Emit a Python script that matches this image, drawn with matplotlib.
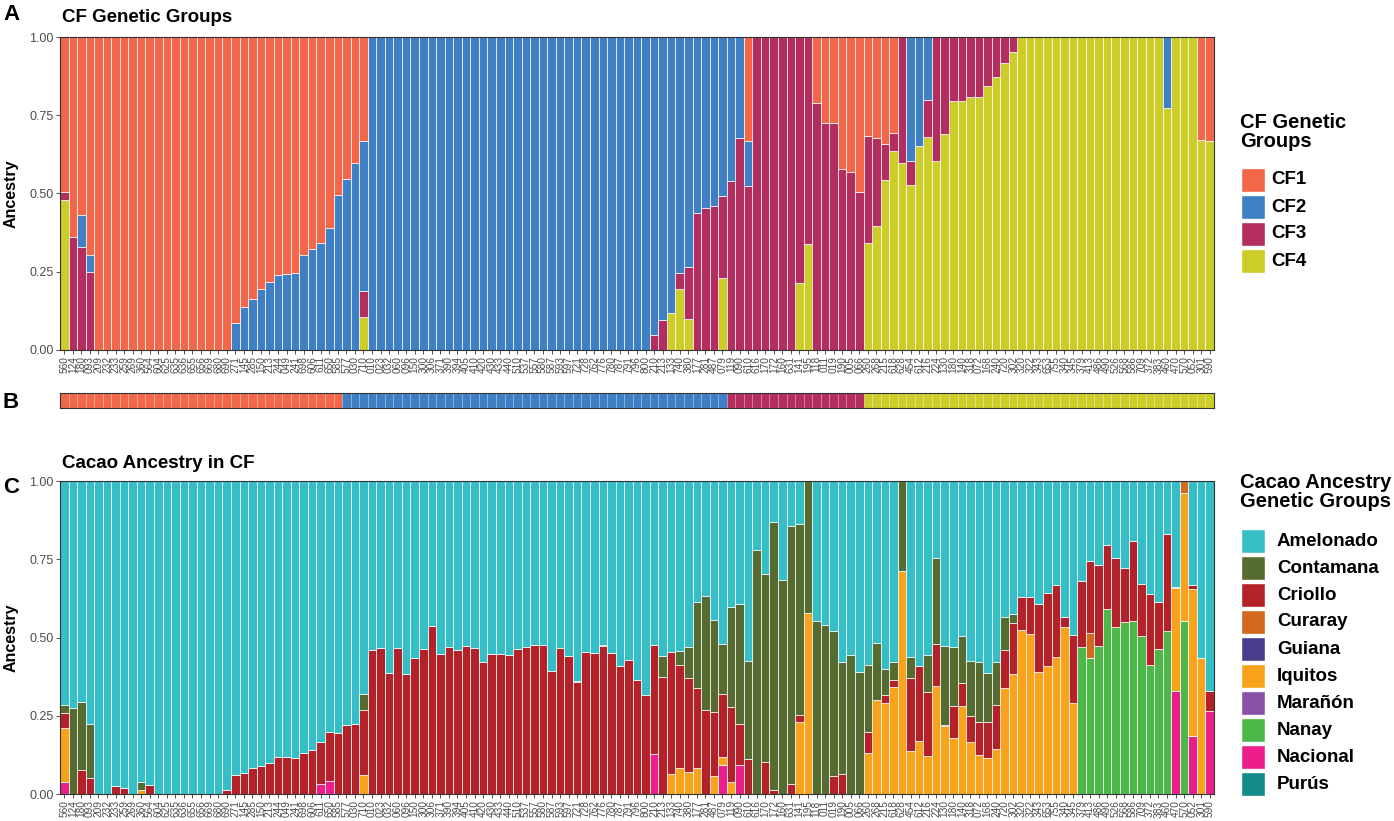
import matplotlib
matplotlib.use("Agg")
from matplotlib import pyplot as plt
from matplotlib.patches import Rectangle
import numpy as np

plt.rcParams["font.family"] = ["Liberation Sans", "DejaVu Sans"]

# sample ids on the x axis (same order in panels A, B and C)
sample_ids = [
    "560", "124", "180", "093", "209", "232", "233", "259", "269", "360", "564", "604", "625", "635", "636",
    "655", "656", "669", "680", "690", "271", "145", "285", "150", "213", "244", "049", "241", "698", "606",
    "611", "650", "585", "577", "030", "710", "010", "023", "032", "060", "096", "150", "300", "306", "371",
    "390", "394", "405", "410", "420", "430", "433", "440", "510", "537", "557", "580", "587", "593", "597",
    "721", "728", "762", "776", "780", "787", "791", "796", "800", "210", "213", "133", "740", "380", "177",
    "281", "487", "079", "119", "090", "610", "616", "170", "172", "160", "631", "141", "195", "118", "011",
    "019", "190", "005", "066", "260", "268", "215", "618", "628", "454", "612", "216", "224", "130", "180",
    "140", "318", "072", "168", "240", "720", "302", "320", "322", "343", "653", "755", "340", "345", "379",
    "413", "486", "490", "526", "568", "586", "709", "372", "383", "460", "470", "570", "052", "301", "590",
]

# ---- panel A: CF genetic groups (CF1 is the remainder up to 1) ----
cf2 = [
    0, 0, .10, .055, 0, 0, 0, 0, 0, 0, 0, 0, 0, 0, 0,
    0, 0, 0, 0, 0, .085, .136, .163, .194, .216, .239, .243, .245, .304, .322,
    .343, .389, .496, .545, .596, .478, 1, 1, 1, 1, 1, 1, 1, 1, 1,
    1, 1, 1, 1, 1, 1, 1, 1, 1, 1, 1, 1, 1, 1, 1,
    1, 1, 1, 1, 1, 1, 1, 1, 1, .952, .904, .883, .753, .734, .563,
    .545, .539, .508, .46, .322, .145, 0, 0, 0, 0, 0, 0, 0, 0, 0,
    0, 0, 0, 0, 0, 0, 0, 0, 0, .397, .347, .20, 0, 0, 0,
    0, 0, 0, 0, 0, 0, 0, 0, 0, 0, 0, 0, 0, 0, 0,
    0, 0, 0, 0, 0, 0, 0, 0, 0, .226, 0, 0, 0, 0, 0,
]
cf3 = [
    .025, .36, .33, .25, 0, 0, 0, 0, 0, 0, 0, 0, 0, 0, 0,
    0, 0, 0, 0, 0, 0, 0, 0, 0, 0, 0, 0, 0, 0, 0,
    0, 0, 0, 0, 0, .084, 0, 0, 0, 0, 0, 0, 0, 0, 0,
    0, 0, 0, 0, 0, 0, 0, 0, 0, 0, 0, 0, 0, 0, 0,
    0, 0, 0, 0, 0, 0, 0, 0, 0, .048, .096, 0, .051, .166, .437,
    .455, .461, .262, .54, .678, .524, 1, 1, 1, 1, 1, .787, .662, .788, .726,
    .726, .579, .569, .505, .341, .28, .115, .059, .404, .077, 0, .118, .397, .309, .203,
    .203, .193, .191, .157, .129, .082, .048, 0, 0, 0, 0, 0, 0, 0, 0,
    0, 0, 0, 0, 0, 0, 0, 0, 0, 0, 0, 0, 0, 0, 0,
]
cf4 = [
    .48, 0, 0, 0, 0, 0, 0, 0, 0, 0, 0, 0, 0, 0, 0,
    0, 0, 0, 0, 0, 0, 0, 0, 0, 0, 0, 0, 0, 0, 0,
    0, 0, 0, 0, 0, .106, 0, 0, 0, 0, 0, 0, 0, 0, 0,
    0, 0, 0, 0, 0, 0, 0, 0, 0, 0, 0, 0, 0, 0, 0,
    0, 0, 0, 0, 0, 0, 0, 0, 0, 0, 0, .117, .196, .10, 0,
    0, 0, .23, 0, 0, 0, 0, 0, 0, 0, 0, .213, .338, 0, 0,
    0, 0, 0, 0, .343, .396, .543, .635, .596, .526, .653, .682, .603, .691, .797,
    .797, .807, .809, .843, .871, .918, .952, 1, 1, 1, 1, 1, 1, 1, 1,
    1, 1, 1, 1, 1, 1, 1, 1, 1, .774, 1, 1, 1, .672, .669,
]

# ---- panel B: assigned CF group (counts of consecutive samples) ----
group_names = ["CF1", "CF2", "CF3", "CF4"]
group_sizes = [33, 45, 16, 41]

# ---- panel C: cacao ancestry (Amelonado is the remainder up to 1) ----
nacional = [
    .037, 0, 0, 0, 0, 0, 0, 0, 0, 0, 0, 0, 0, 0, 0,
    0, 0, 0, 0, 0, 0, 0, 0, 0, 0, 0, 0, 0, 0, 0,
    .031, .04, 0, 0, 0, 0, 0, 0, 0, 0, 0, 0, 0, 0, 0,
    0, 0, 0, 0, 0, 0, 0, 0, 0, 0, 0, 0, 0, 0, 0,
    0, 0, 0, 0, 0, 0, 0, 0, 0, .128, 0, 0, 0, 0, 0,
    0, 0, .093, 0, .093, 0, 0, 0, 0, 0, 0, 0, 0, 0, 0,
    0, 0, 0, 0, 0, 0, 0, 0, 0, 0, 0, 0, 0, 0, 0,
    0, 0, 0, 0, 0, 0, 0, 0, 0, 0, 0, 0, 0, 0, 0,
    0, 0, 0, 0, 0, 0, 0, 0, 0, 0, .329, 0, .186, 0, .265,
]
nanay = [
    0, 0, 0, 0, 0, 0, 0, 0, 0, 0, 0, 0, 0, 0, 0,
    0, 0, 0, 0, 0, 0, 0, 0, 0, 0, 0, 0, 0, 0, 0,
    0, 0, 0, 0, 0, 0, 0, 0, 0, 0, 0, 0, 0, 0, 0,
    0, 0, 0, 0, 0, 0, 0, 0, 0, 0, 0, 0, 0, 0, 0,
    0, 0, 0, 0, 0, 0, 0, 0, 0, 0, 0, 0, 0, 0, 0,
    0, 0, 0, 0, 0, 0, 0, 0, 0, 0, 0, 0, 0, 0, 0,
    0, 0, 0, 0, 0, 0, 0, 0, 0, 0, 0, 0, 0, 0, 0,
    0, 0, 0, 0, 0, 0, 0, 0, 0, 0, 0, 0, 0, 0, .469,
    .436, .473, .59, .532, .548, .554, .505, .411, .464, .521, 0, .554, 0, 0, 0,
]
iquitos = [
    .173, 0, 0, 0, 0, 0, 0, 0, 0, .014, 0, 0, 0, 0, 0,
    0, 0, 0, 0, 0, 0, 0, 0, 0, 0, 0, 0, 0, 0, 0,
    0, 0, 0, 0, 0, .061, 0, 0, 0, 0, 0, 0, 0, 0, 0,
    0, 0, 0, 0, 0, 0, 0, 0, 0, 0, 0, 0, 0, 0, 0,
    0, 0, 0, 0, 0, 0, 0, 0, 0, 0, 0, .064, .084, .071, .083,
    0, .058, .026, .039, 0, 0, 0, 0, 0, 0, 0, .231, .579, 0, 0,
    0, 0, 0, 0, .13, .30, .291, .341, .714, .137, .169, .122, .344, .217, .178,
    .282, .167, .125, .115, .143, .338, .382, .525, .512, .391, .408, .438, .534, .292, 0,
    0, 0, 0, 0, 0, 0, 0, 0, 0, 0, .328, .407, .469, .433, 0,
]
curaray = [
    0, 0, 0, 0, 0, 0, 0, 0, 0, 0, 0, 0, 0, 0, 0,
    0, 0, 0, 0, 0, 0, 0, 0, 0, 0, 0, 0, 0, 0, 0,
    0, 0, 0, 0, 0, 0, 0, 0, 0, 0, 0, 0, 0, 0, 0,
    0, 0, 0, 0, 0, 0, 0, 0, 0, 0, 0, 0, 0, 0, 0,
    0, 0, 0, 0, 0, 0, 0, 0, 0, 0, 0, 0, 0, 0, 0,
    0, 0, 0, 0, 0, 0, 0, 0, 0, 0, 0, 0, 0, 0, 0,
    0, 0, 0, 0, 0, 0, 0, 0, 0, 0, 0, 0, 0, 0, 0,
    0, 0, 0, 0, 0, 0, 0, 0, 0, 0, 0, 0, 0, 0, 0,
    .078, 0, 0, 0, 0, 0, 0, 0, 0, 0, 0, .039, 0, 0, 0,
]
criollo = [
    .048, 0, .076, .05, 0, 0, .026, .02, 0, 0, .028, 0, 0, 0, 0,
    0, 0, 0, 0, .013, .061, .068, .084, .09, .099, .118, .119, .114, .131, .141,
    .136, .158, .196, .22, .225, .206, .459, .465, .387, .468, .383, .433, .463, .538, .447,
    .47, .461, .472, .466, .421, .448, .448, .444, .463, .47, .477, .475, .392, .466, .442,
    .357, .454, .449, .473, .452, .409, .428, .364, .316, .348, .373, .39, .328, .301, .257,
    .268, .205, .202, .238, .13, .113, 0, .101, .014, 0, .031, .022, 0, 0, 0,
    .056, .065, 0, 0, .068, 0, .025, .022, 0, .233, .239, .203, .134, .005, .102,
    .073, .081, .104, .114, .141, .123, .164, .105, .116, .217, .234, .23, .033, .217, .21,
    .23, .259, .204, .221, .173, .255, .167, .227, .15, .309, .005, 0, .013, 0, .065,
]
contamana = [
    .026, .276, .219, .173, 0, 0, 0, 0, 0, .025, 0, 0, 0, 0, 0,
    0, 0, 0, 0, 0, 0, 0, 0, 0, 0, 0, 0, 0, 0, 0,
    0, 0, 0, 0, 0, .052, 0, 0, 0, 0, 0, 0, 0, 0, 0,
    0, 0, 0, 0, 0, 0, 0, 0, 0, 0, 0, 0, 0, 0, 0,
    .004, 0, 0, .004, 0, 0, 0, 0, 0, 0, .068, 0, .046, .097, .272,
    .365, .292, .157, .32, .384, .312, .781, .602, .855, .684, .825, .609, .421, .554, .541,
    .466, .356, .444, .391, .213, .182, .084, .058, .286, .069, 0, .12, .277, .251, .19,
    .15, .178, .193, .158, .137, .106, .028, 0, 0, 0, 0, 0, 0, 0, 0,
    0, 0, 0, 0, 0, 0, 0, 0, 0, 0, 0, 0, 0, 0, 0,
]
zeros = [0] * len(sample_ids)
guiana = zeros
maranon = zeros
purus = zeros

cf_colors = {"CF1": "#F2674A", "CF2": "#3F7FC4", "CF3": "#B32D5E", "CF4": "#CDCD29"}
cacao_names = ["Amelonado", "Contamana", "Criollo", "Curaray", "Guiana",
               "Iquitos", "Marañón", "Nanay", "Nacional", "Purús"]
cacao_colors = ["#35BEC6", "#566B30", "#B22228", "#D2691E", "#483D8B",
                "#F9A31C", "#8A4FA6", "#4DB849", "#EC1E8C", "#148A8B"]

n = len(sample_ids)
x = np.arange(n)
cf1 = np.clip(1 - (np.array(cf2) + np.array(cf3) + np.array(cf4)), 0, 1)
amelonado = np.clip(1 - (np.array(nacional) + np.array(nanay) + np.array(iquitos)
                         + np.array(curaray) + np.array(criollo) + np.array(contamana)), 0, 1)

W, H = 1394, 821
fig = plt.figure(figsize=(W / 100, H / 100), dpi=100)


def fpos(left, top, width, height):
    return [left / W, 1 - (top + height) / H, width / W, height / H]


def style_axes(ax):
    ax.set_xlim(-0.5, n - 0.5)
    ax.set_ylim(0, 1)
    ax.set_yticks([0, 0.25, 0.5, 0.75, 1.0])
    ax.set_yticklabels(["0.00", "0.25", "0.50", "0.75", "1.00"], fontsize=9, color="#4D4D4D")
    ax.set_xticks(x)
    ax.set_xticklabels(sample_ids, rotation=90, fontsize=7.3, color="#4D4D4D")
    ax.tick_params(axis="both", length=3, width=0.6, color="#333333", pad=1.5)
    for s in ax.spines.values():
        s.set_color("#333333")
        s.set_linewidth(0.8)
    ax.set_ylabel("Ancestry", fontsize=11.5, fontweight="bold", labelpad=8)


def stack(ax, series, colors):
    bottom = np.zeros(n)
    for vals, col in zip(series, colors):
        vals = np.asarray(vals, dtype=float)
        ax.bar(x, vals, width=1.0, bottom=bottom, color=col,
               edgecolor="white", linewidth=0.5)
        bottom += vals


# Panel A
ax_a = fig.add_axes(fpos(60, 37, 1154, 313))
stack(ax_a, [cf4, cf3, cf2, cf1],
      [cf_colors["CF4"], cf_colors["CF3"], cf_colors["CF2"], cf_colors["CF1"]])
style_axes(ax_a)

# Panel B
ax_b = fig.add_axes(fpos(60, 393, 1154, 15))
groups = []
for g, size in zip(group_names, group_sizes):
    groups += [g] * size
ax_b.bar(x, np.ones(n), width=1.0, color=[cf_colors[g] for g in groups],
         edgecolor=(1, 1, 1, 0.25), linewidth=0.4)
ax_b.set_xlim(-0.5, n - 0.5)
ax_b.set_ylim(0, 1)
ax_b.set_xticks([])
ax_b.set_yticks([])
for s in ax_b.spines.values():
    s.set_color("#333333")
    s.set_linewidth(0.8)

# Panel C (stack bottom to top = legend order reversed)
ax_c = fig.add_axes(fpos(60, 481, 1154, 313))
cacao_values = [amelonado, contamana, criollo, curaray, guiana,
                iquitos, maranon, nanay, nacional, purus]
stack(ax_c, cacao_values[::-1], cacao_colors[::-1])
style_axes(ax_c)

# panel letters and titles
for letter, ypix in [("A", 15), ("B", 402), ("C", 487)]:
    fig.text(3 / W, 1 - ypix / H, letter, fontsize=16, fontweight="bold", va="center", ha="left")
fig.text(62 / W, 1 - 18 / H, "CF Genetic Groups", fontsize=13.5, fontweight="bold", va="center")
fig.text(62 / W, 1 - 463 / H, "Cacao Ancestry in CF", fontsize=13.5, fontweight="bold", va="center")


def legend(title, title_top, names, colors, first_center, label_x):
    fig.text(1240 / W, 1 - title_top / H, title, fontsize=14.5, fontweight="bold",
             va="top", ha="left", linespacing=1.0)
    for k, (name, col) in enumerate(zip(names, colors)):
        yc = first_center + 27 * k
        fig.add_artist(Rectangle((1241 / W, 1 - (yc + 12) / H), 24 / W, 24 / H,
                                 transform=fig.transFigure, facecolor=col,
                                 edgecolor="white", linewidth=1))
        fig.text(label_x / W, 1 - yc / H, name, fontsize=13.5, fontweight="bold", va="center")


legend("CF Genetic\nGroups", 113, group_names, [cf_colors[g] for g in group_names], 180, 1271)
legend("Cacao Ancestry\nGenetic Groups", 473, cacao_names, cacao_colors, 541, 1277)

fig.savefig("out.png", dpi=100)
